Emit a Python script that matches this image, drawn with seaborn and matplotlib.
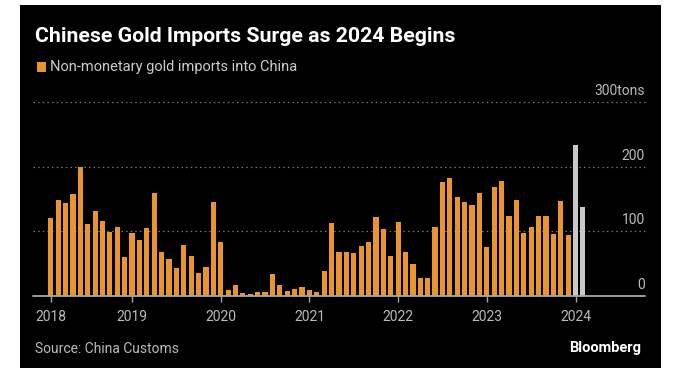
import matplotlib
matplotlib.use("Agg")
import matplotlib.pyplot as plt
import matplotlib.transforms as mtrans
from matplotlib import font_manager
from matplotlib.patches import Rectangle
import seaborn as sns
import pandas as pd

# ---- data (tons) ----
v2018 = [121, 149, 143, 157, 200, 111, 131, 116, 98, 106, 60]
v2019 = [97, 86, 105, 159, 68, 57, 43, 79, 61, 35, 45, 146]
v2020 = [83, 9, 17, 4, 2, 6, 5, 34, 16, 7, 11, 13]
v2021 = [9, 6, 38, 112, 68, 67, 66, 77, 83, 122, 103, 62]
v2022 = [114, 67, 49, 27, 27, 106, 177, 183, 153, 146, 141, 159]
v2023 = [76, 168, 178, 124, 148, 97, 106, 123, 124, 95, 147, 94]
v2024 = [234, 138]
years = ["2018", "2019", "2020", "2021", "2022", "2023", "2024"]
yticks = [0, 100, 200, 300]
ytick_labels = ["0", "100", "200", "300tons"]

series = [v2018, v2019, v2020, v2021, v2022, v2023, v2024]
rows = []
tick_pos = []
for yr, vals in zip(years, series):
    tick_pos.append(len(rows))
    for j, v in enumerate(vals):
        rows.append({"period": f"{yr}-{j + 1:02d}", "tons": v,
                     "kind": "latest" if yr == "2024" else "hist"})
df = pd.DataFrame(rows)

ORANGE = "#E8952F"
GRAY = "#C8C8C8"


def pick(names):
    for n in names:
        try:
            font_manager.findfont(n, fallback_to_default=False)
            return n
        except Exception:
            continue
    return "DejaVu Sans"


cond = pick(["Liberation Sans Narrow", "DejaVu Sans Condensed", "Roboto", "DejaVu Sans"])

sns.set_theme(style="dark")
plt.rcParams["font.family"] = ["DejaVu Sans"]

W, H = 673, 374
fig = plt.figure(figsize=(W / 100, H / 100), dpi=100, facecolor="white")
fig.patches.append(Rectangle((20 / W, 1 - 368 / H), 641 / W, 363 / H,
                             transform=fig.transFigure, facecolor="black",
                             edgecolor="none", zorder=-10))

ax = fig.add_axes([33 / W, 1 - 295.7 / H, (645 - 33) / W, (295.7 - 102.2) / H])
ax.set_zorder(5)
ax.set_facecolor("none")
ax.patch.set_alpha(0)

sns.barplot(data=df, x="period", y="tons", hue="kind",
            palette={"hist": ORANGE, "latest": GRAY},
            dodge=False, width=0.7, legend=False, ax=ax,
            saturation=1, zorder=3, linewidth=0, edgecolor="none")

ax.set_xlim(-2.4, 80.4)
ax.set_ylim(0, 300)
ax.set_xlabel("")
ax.set_ylabel("")
for s in ax.spines.values():
    s.set_visible(False)

# grid
ax.set_yticks(yticks)
ax.set_yticklabels([])
ax.tick_params(axis="y", length=0)
for yv in yticks[1:]:
    ax.axhline(yv, color="#777777", lw=0.9, ls=(0, (1.2, 2.5)), zorder=1, clip_on=False)
ax.axhline(0, color="#A8A8A8", lw=1.3, zorder=4, clip_on=False)
ax.grid(False)

tr = mtrans.blended_transform_factory(ax.transAxes, ax.transData)
for yv, lab in zip(yticks, ytick_labels):
    ax.text(1.0, yv + 6, lab, transform=tr, ha="right", va="bottom",
            color="#BBBBBB", fontsize=10, family=cond)

ax.set_xticks(tick_pos)
ax.set_xticklabels(years, color="#BBBBBB", fontsize=10, family=cond)
ax.tick_params(axis="x", length=4, width=1, color="#A8A8A8", pad=6, bottom=True)

fig.text(35 / W, 1 - 36 / H, "Chinese Gold Imports Surge as 2024 Begins",
         color="white", fontsize=15.3, fontweight="bold", va="center", ha="left", family=cond)
fig.patches.append(Rectangle((37 / W, 1 - 72 / H), 9 / W, 10 / H,
                             transform=fig.transFigure, facecolor=ORANGE,
                             edgecolor="none", zorder=2))
fig.text(50 / W, 1 - 67 / H, "Non-monetary gold imports into China",
         color="#CCCCCC", fontsize=10.5, va="center", ha="left", family=cond)
fig.text(35 / W, 1 - 349 / H, "Source: China Customs",
         color="#BBBBBB", fontsize=10, va="center", ha="left", family=cond)
fig.text(641 / W, 1 - 348 / H, "Bloomberg",
         color="white", fontsize=10.5, fontweight="bold", va="center", ha="right", family=cond)

fig.savefig("out.png", dpi=100, facecolor="white")
